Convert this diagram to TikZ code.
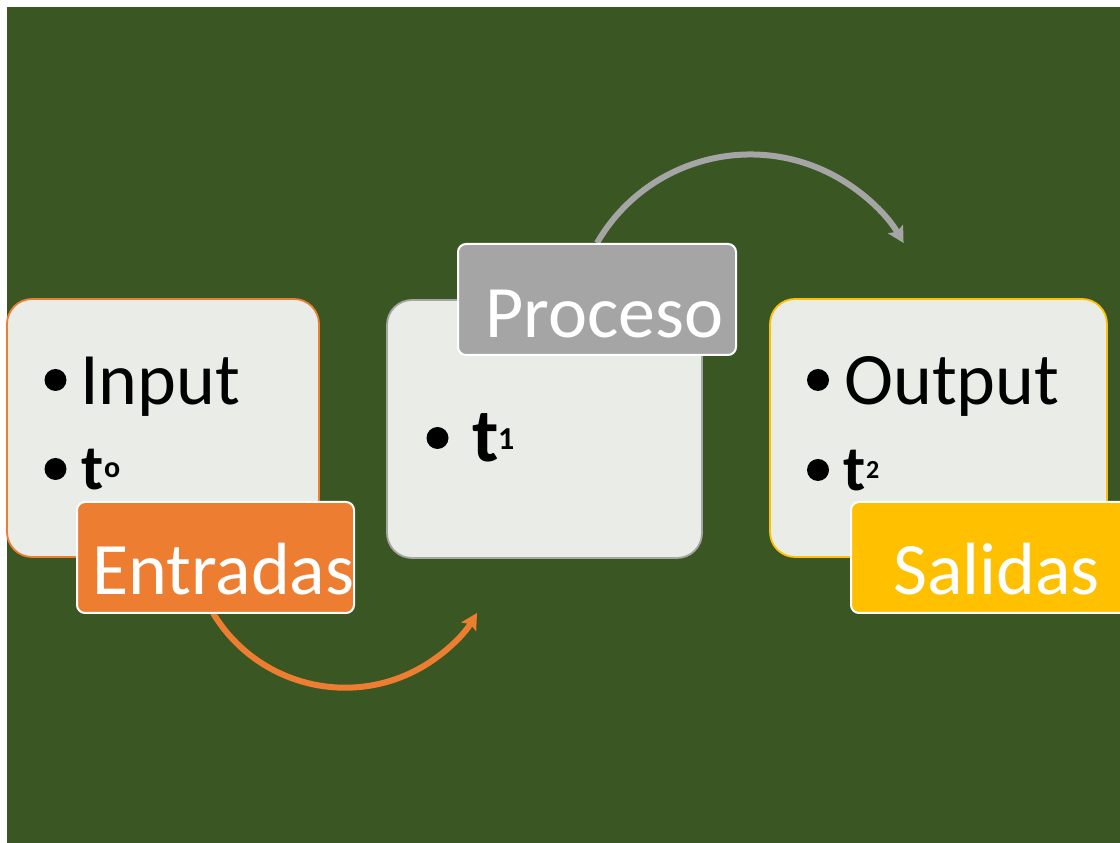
\documentclass[tikz,border=0pt]{standalone}
\usepackage{fontspec}
\setmainfont{Carlito}
\usetikzlibrary{arrows.meta}
\definecolor{board}{HTML}{3A5623}
\definecolor{panelfill}{HTML}{EAECE7}
\definecolor{accOrange}{HTML}{ED7D31}
\definecolor{accGray}{HTML}{A5A5A5}
\definecolor{accGold}{HTML}{FFC000}
\tikzset{
  panel/.style={rounded corners=25pt, fill=panelfill, line width=1.8pt, inner sep=0pt},
  tag/.style={rounded corners=8pt, draw=white, line width=2pt, inner sep=0pt},
  big/.style={font=\fontsize{74}{88}\selectfont, inner sep=0pt, anchor=base west},
  tagtext/.style={big, text=white},
  dot/.style={circle, fill=black, minimum size=22pt, inner sep=0pt},
  tbig/.style={font=\fontsize{#1}{#1}\selectfont\bfseries, inner sep=0pt, anchor=base west},
  flow/.style={line width=6pt, -{Stealth[length=16pt, width=17pt, inset=3pt]}},
}
\begin{document}
\begin{tikzpicture}[x=1pt, y=1pt]
\useasboundingbox (0,0) rectangle (1120,843);
\clip (0,0) rectangle (1120,843);
\fill[white] (0,0) rectangle (1120,843);
\fill[board] (7,0) rectangle (1120,836);

% curved connectors behind the boxes
\coordinate (arcAstart) at (213,230);
\coordinate (arcBstart) at (597,600);
\draw[flow, accOrange] (arcAstart) arc[start angle=211, end angle=329, radius=154];
\draw[flow, accGray] (arcBstart) arc[start angle=150, end angle=30, radius=177];

% panels
\node[panel, draw=accOrange, minimum width=312pt, minimum height=258pt] (panelA) at (163,415) {};
\node[panel, draw=accGray, minimum width=315pt, minimum height=258pt] (panelB) at (544.5,414) {};
\node[panel, draw=accGold, minimum width=337pt, minimum height=258pt] (panelC) at (938.5,415) {};

% headings
\node[tag, fill=accOrange, minimum width=277pt, minimum height=111pt] (tagA) at (215.5,285.5) {};
\node[tag, fill=accGray, minimum width=278pt, minimum height=111pt] (tagB) at (597,543.5) {};
\node[tag, fill=accGold, minimum width=290pt, minimum height=111pt] (tagC) at (996,285.5) {};
\node[tagtext] (txtA) at (92,248) {Entradas};
\node[tagtext] (txtB) at (485,505) {Proceso};
\node[tagtext] (txtC) at (893,248) {Salidas};

% first panel
\node[dot] (dotA1) at (55.5,463) {};
\node[big] (inA) at (80,438) {Input};
\node[dot] (dotA2) at (55.5,374) {};
\node[tbig=64] (tA) at (81,353) {t};
\node[tbig=30] (subA) at (104,365) {o};

% second panel
\node[dot] (dotB1) at (437.5,405) {};
\node[tbig=76] (tB) at (472,381) {t};
\node[tbig=32] (subB) at (498,393) {1};

% third panel
\node[dot] (dotC1) at (818,463) {};
\node[big] (outC) at (844,438) {Output};
\node[dot] (dotC2) at (818,373) {};
\node[tbig=64] (tC) at (843,352) {t};
\node[tbig=26] (subC) at (866,364) {2};
\end{tikzpicture}
\end{document}
